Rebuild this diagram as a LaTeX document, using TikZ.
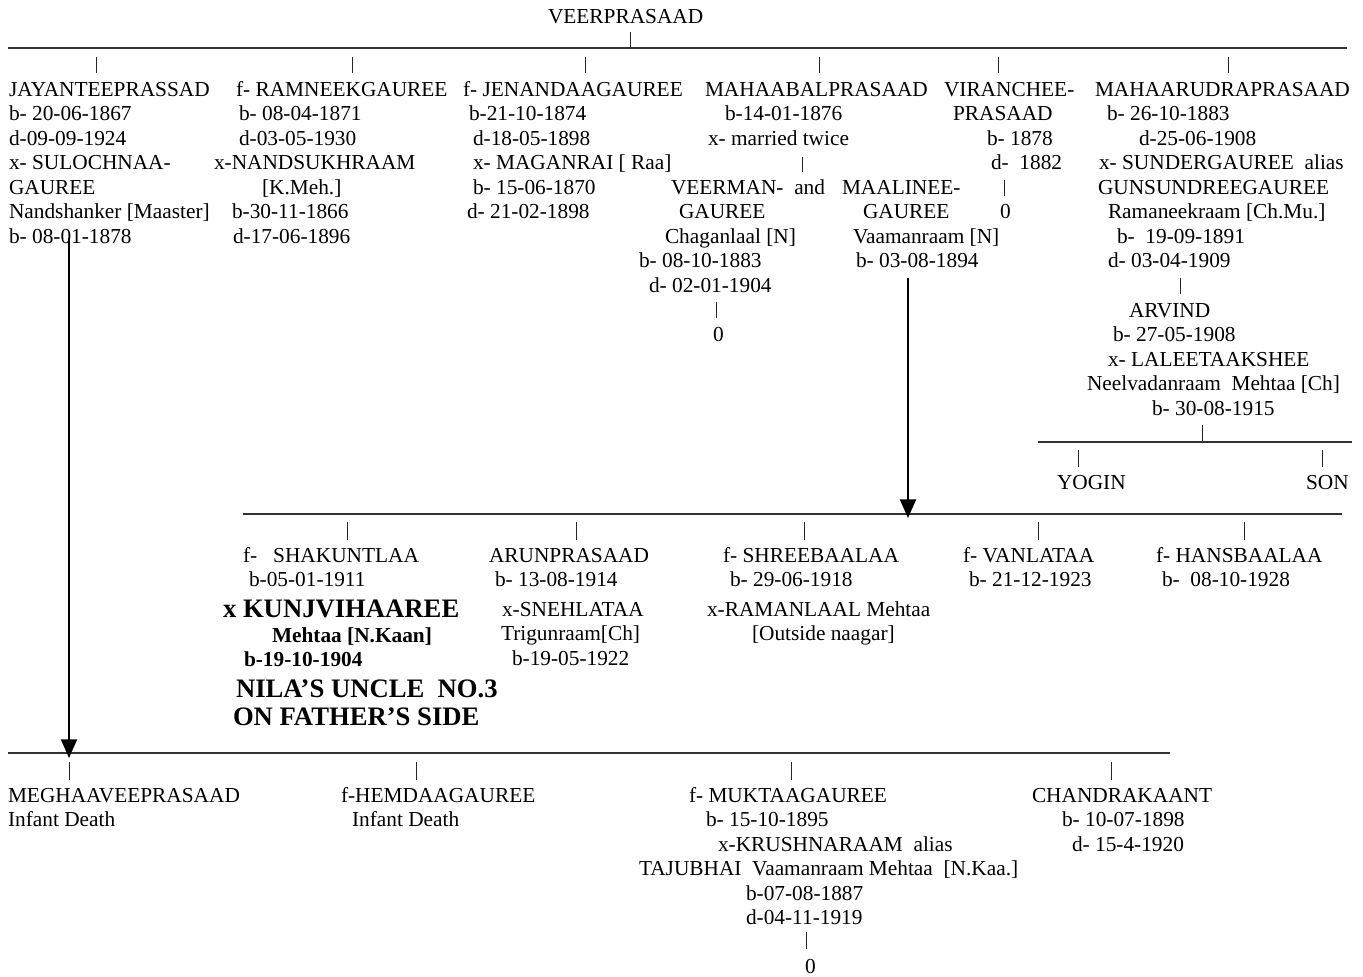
\documentclass[tikz,border=0pt]{standalone}
\usepackage{fontspec}
\setmainfont{Liberation Serif}
\usetikzlibrary{arrows.meta}
\newdimen\pxu \pxu=0.75pt
\newcommand\ind[1]{\hspace*{#1\pxu}}
\newcommand\fst[1]{\strut\hspace*{#1\pxu}}
\newcommand\fsN{\fontsize{16}{18.375}\selectfont}
\newcommand\fsB{\fontsize{20}{21}\selectfont\bfseries}
\begin{document}
\begin{tikzpicture}[x=0.75pt,y=-0.75pt,
  blk/.style={anchor=north west,inner sep=0pt,outer sep=0pt,align=left,yshift=12.86pt,font=\fsN},
  blkb/.style={anchor=north west,inner sep=0pt,outer sep=0pt,align=left,yshift=14.7pt,font=\fsB},
  hline/.style={draw=black!80,line width=0.8pt},
  bar/.style={draw=black!85,line width=0.6pt},
  arr/.style={draw=black,line width=1.4pt,-{Triangle[width=12pt,length=14pt]}}]
\useasboundingbox (0,0) rectangle (1363,977);

% ---------- generation 1 ----------
\node[blk] (veer) at (548,23) {\fst{0}VEERPRASAAD};
\draw[bar] (630,32) -- (630,48);
\draw[hline] (8,48) -- (1347,48);
\foreach \bx in {96,352,585,819,998,1228} \draw[bar] (\bx,57) -- (\bx,73);

\node[blk] (jay) at (9,96) {\fst{0}JAYANTEEPRASSAD\\
\ind{0}b- 20-06-1867\\
\ind{0}d-09-09-1924\\
\ind{0}x- SULOCHNAA-\\
\ind{0}GAUREE\\
\ind{0}Nandshanker [Maaster]\\
\ind{0}b- 08-01-1878};

\node[blk] (ramn) at (214,96) {\fst{22}f- RAMNEEKGAUREE\\
\ind{25}b- 08-04-1871\\
\ind{25}d-03-05-1930\\
\ind{0}x-NANDSUKHRAAM\\
\ind{48}[K.Meh.]\\
\ind{18}b-30-11-1866\\
\ind{19}d-17-06-1896};

\node[blk] (jen) at (463,96) {\fst{0}f- JENANDAAGAUREE\\
\ind{6}b-21-10-1874\\
\ind{10}d-18-05-1898\\
\ind{10}x- MAGANRAI [ Raa]\\
\ind{10}b- 15-06-1870\\
\ind{4}d- 21-02-1898};

\node[blk] (mahab) at (705,96) {\fst{0}MAHAABALPRASAAD\\
\ind{20}b-14-01-1876\\
\ind{3}x- married twice};
\draw[bar] (802,157) -- (802,172);

\node[blk] (veerman) at (639,194) {\fst{32}VEERMAN-\ \ and\\
\ind{40}GAUREE\\
\ind{26}Chaganlaal [N]\\
\ind{0}b- 08-10-1883\\
\ind{10}d- 02-01-1904};
\draw[bar] (716,302) -- (716,318);
\node[blk] (vz) at (713,341) {\fst{0}0};

\node[blk] (maal) at (842,194) {\fst{0}MAALINEE-\\
\ind{21}GAUREE\\
\ind{11}Vaamanraam [N]\\
\ind{14}b- 03-08-1894};

\node[blk] (vir) at (944,96) {\fst{0}VIRANCHEE-\\
\ind{9}PRASAAD\\
\ind{43}b- 1878\\
\ind{47}d-\ \ 1882};
\draw[bar] (1004,180) -- (1004,196);
\node[blk] (virz) at (1000,218) {\fst{0}0};

\node[blk] (mahar) at (1087,96) {\fst{8}MAHAARUDRAPRASAAD\\
\ind{20}b- 26-10-1883\\
\ind{52}d-25-06-1908\\
\ind{12}x- SUNDERGAUREE\ \ alias\\
\ind{11}GUNSUNDREEGAUREE\\
\ind{21}Ramaneekraam [Ch.Mu.]\\
\ind{30}b-\ \ 19-09-1891\\
\ind{21}d- 03-04-1909};
\draw[bar] (1180,278) -- (1180,294);

\node[blk] (arv) at (1087,317) {\fst{42}ARVIND\\
\ind{26}b- 27-05-1908\\
\ind{21}x- LALEETAAKSHEE\\
\ind{0}Neelvadanraam\ \ Mehtaa [Ch]\\
\ind{65}b- 30-08-1915};
\draw[bar] (1202,425) -- (1202,442);
\draw[hline] (1038,442) -- (1352,442);
\draw[bar] (1078,450) -- (1078,467);
\draw[bar] (1322,450) -- (1322,467);
\node[blk] (yog) at (1057,489) {\fst{0}YOGIN};
\node[blk] (son) at (1306,489) {\fst{0}SON};

% ---------- generation 2 (Mahaabal) ----------
\draw[hline] (243,514) -- (1342,514);
\foreach \bx in {347,576,804,1038,1244} \draw[bar] (\bx,522) -- (\bx,540);

\node[blk] (shak) at (243,562) {\fst{0}f-\ \ \ SHAKUNTLAA\\
\ind{6}b-05-01-1911};
\node[blkb] (kunj) at (223,617) {\fst{0}x KUNJVIHAAREE};
\node[blk,font=\fsN\bfseries] (kunjd) at (244,642) {\fst{28}Mehtaa [N.Kaan]\\
\ind{0}b-19-10-1904};
\node[blkb] (nila) at (233,697) {\fst{3}NILA'S UNCLE\ \ NO.3\\
\ind{0}ON FATHER'S SIDE};

\node[blk] (arun) at (489,562) {\fst{0}ARUNPRASAAD\\
\ind{6}b- 13-08-1914\\[3.75pt]
\ind{13}x-SNEHLATAA\\
\ind{12}Trigunraam[Ch]\\
\ind{23}b-19-05-1922};

\node[blk] (shree) at (707,562) {\fst{16}f- SHREEBAALAA\\
\ind{23}b- 29-06-1918\\[3.75pt]
\ind{0}x-RAMANLAAL Mehtaa\\
\ind{45}[Outside naagar]};

\node[blk] (van) at (963,562) {\fst{0}f- VANLATAA\\
\ind{6}b- 21-12-1923};

\node[blk] (hans) at (1156,562) {\fst{0}f- HANSBAALAA\\
\ind{6}b-\ \ 08-10-1928};

% ---------- generation 2 (Jayantee) ----------
\draw[hline] (8,753) -- (1170,753);
\foreach \bx in {69,416,791,1111} \draw[bar] (\bx,762) -- (\bx,780);

\node[blk] (megh) at (8,802) {\fst{0}MEGHAAVEEPRASAAD\\
\ind{0}Infant Death};
\node[blk] (hemd) at (341,802) {\fst{0}f-HEMDAAGAUREE\\
\ind{11}Infant Death};
\node[blk] (mukt) at (639,802) {\fst{50}f- MUKTAAGAUREE\\
\ind{67}b- 15-10-1895\\
\ind{79}x-KRUSHNARAAM\ \ alias\\
\ind{0}TAJUBHAI\ \ Vaamanraam Mehtaa\ \ [N.Kaa.]\\
\ind{107}b-07-08-1887\\
\ind{107}d-04-11-1919};
\draw[bar] (806,932) -- (806,949);
\node[blk] (muktz) at (805,973) {\fst{0}0};

\node[blk] (chand) at (1032,802) {\fst{0}CHANDRAKAANT\\
\ind{30}b- 10-07-1898\\
\ind{40}d- 15-4-1920};

% ---------- arrows ----------
\coordinate (a1s) at (69,238);
\coordinate (a1e) at (69,758);
\draw[arr] (a1s) -- (a1e);
\coordinate (a2s) at (908,278);
\coordinate (a2e) at (908,518);
\draw[arr] (a2s) -- (a2e);
\end{tikzpicture}
\end{document}
